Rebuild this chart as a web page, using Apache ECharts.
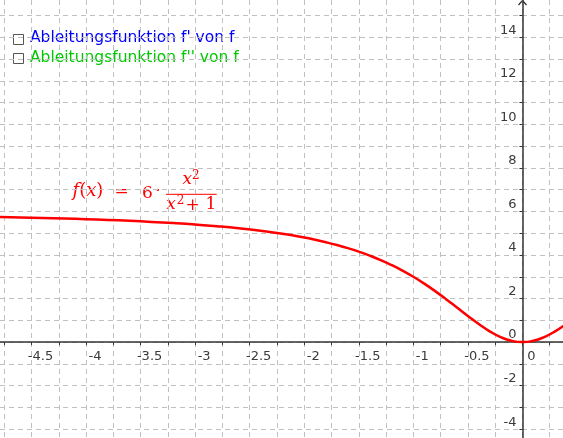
<!DOCTYPE html>
<html>
<head>
<meta charset="utf-8">
<script src="https://cdn.jsdelivr.net/npm/echarts@6/dist/echarts.min.js"></script>
<style>
html,body{margin:0;padding:0;background:#fff;}
#chart{width:563px;height:438px;}
</style>
</head>
<body>
<div id="chart"></div>
<script>
var xValues = [-4.8,-4.6,-4.4,-4.2,-4.0,-3.8,-3.6,-3.4,-3.2,-3.0,-2.8,-2.6,-2.4,-2.2,-2.0,-1.9,-1.8,-1.7,-1.6,-1.5,-1.4,-1.3,-1.2,-1.1,-1.0,-0.9,-0.8,-0.7,-0.6,-0.5,-0.4,-0.3,-0.2,-0.1,0,0.1,0.2,0.3,0.4];
var fValues = [5.750,5.729,5.705,5.678,5.647,5.611,5.570,5.522,5.466,5.400,5.321,5.227,5.112,4.973,4.800,4.699,4.585,4.458,4.315,4.154,3.973,3.770,3.541,3.285,3.000,2.685,2.341,1.973,1.588,1.200,0.828,0.495,0.231,0.059,0.000,0.059,0.231,0.495,0.828];
var xTickLabels = ['-4.5','-4','-3.5','-3','-2.5','-2','-1.5','-1','-0.5','0'];
var yTickLabels = ['-4','-2','0','2','4','6','8','10','12','14'];
var legendTexts = ["Ableitungsfunktion f' von f", "Ableitungsfunktion f'' von f"];

var W = 563, H = 438;
var xMin = -4.789, xMax = 0.372, yMin = -4.405, yMax = 15.714;

var chart = echarts.init(document.getElementById('chart'), null, {renderer:'canvas'});

var pts = xValues.map(function(x,i){ return [x, fValues[i]]; });

// grid/tick positions: every 0.25 on x, every 1 on y
var xTicks = []; for (var k = -19; k <= 1; k++) xTicks.push(k * 0.25);
var yTicks = []; for (var j = -4; j <= 15; j++) yTicks.push(j);

// axes drawn through the origin: shift them inward from the grid edge
var xAxisOffset = -((0 - yMin) / (yMax - yMin)) * H;
var yAxisOffset = -((0 - xMin) / (xMax - xMin)) * W;

var gridLine = {show:true, lineStyle:{color:'#c0c0c0', width:1, type:[5,4]}};
var serif = 'DejaVu Serif';

var option = {
  animation:false,
  backgroundColor:'#ffffff',
  grid:{left:0, right:0, top:0, bottom:0, containLabel:false, outerBoundsMode:'none'},
  xAxis:{
    type:'value', min:xMin, max:xMax, position:'bottom', offset:xAxisOffset,
    axisLine:{show:true, onZero:false, lineStyle:{color:'#333', width:1.5}},
    axisTick:{show:true, length:3, customValues:xTicks, lineStyle:{color:'#333', width:1}},
    splitLine:gridLine,
    axisLabel:{
      show:true, margin:8, color:'#3a3a3a', fontFamily:'DejaVu Sans', fontSize:13,
      lineHeight:14, align:'center', padding:[0,0,0,18], hideOverlap:false,
      customValues:xTickLabels.map(Number),
      formatter:function(v){ return String(v); }
    }
  },
  yAxis:{
    type:'value', min:yMin, max:yMax, position:'left', offset:yAxisOffset,
    axisLine:{show:true, onZero:false, lineStyle:{color:'#333', width:1.5}},
    axisTick:{show:true, length:3, customValues:yTicks, lineStyle:{color:'#333', width:1}},
    splitLine:gridLine,
    axisLabel:{
      show:true, margin:6, color:'#3a3a3a', fontFamily:'DejaVu Sans', fontSize:13,
      lineHeight:14, align:'right', verticalAlign:'bottom', hideOverlap:false,
      customValues:yTickLabels.map(Number),
      formatter:function(v){ return String(v); }
    }
  },
  series:[{
    type:'line', data:pts, smooth:true, showSymbol:false, symbol:'none',
    lineStyle:{color:'#ff0000', width:2.5}, z:5
  }],
  graphic:[{
    type:'group', x:0, y:0, z:10,
    children:[
      {type:'polyline', shape:{points:[[518.5,5],[522.5,0.5],[526.5,5]]}, style:{stroke:'#333', lineWidth:1.3, fill:null}},
      {type:'rect', shape:{x:13.5, y:34.5, width:10, height:10}, style:{fill:'#fff', stroke:'#555', lineWidth:1}},
      {type:'rect', shape:{x:13.5, y:53.5, width:10, height:10}, style:{fill:'#fff', stroke:'#555', lineWidth:1}},
      {type:'text', x:30, y:38, style:{text:legendTexts[0], fill:'#0000ff', font:'15.5px "DejaVu Sans"', align:'left', verticalAlign:'middle'}},
      {type:'text', x:30, y:58, style:{text:legendTexts[1], fill:'#00c800', font:'15.5px "DejaVu Sans"', align:'left', verticalAlign:'middle'}},
      {type:'text', x:72.5, y:191, style:{text:'{i|f}({i|x})', fill:'#ff0000', font:'18px "'+serif+'"', align:'left', verticalAlign:'middle',
        rich:{i:{fontStyle:'italic', fontFamily:serif, fontSize:18, fill:'#ff0000'}}}},
      {type:'text', x:121.5, y:192, style:{text:'=', fill:'#ff0000', font:'17px "'+serif+'"', align:'center', verticalAlign:'middle'}},
      {type:'text', x:147.5, y:194, style:{text:'6', fill:'#ff0000', font:'17px "'+serif+'"', align:'center', verticalAlign:'middle'}},
      {type:'text', x:158, y:192, style:{text:'·', fill:'#ff0000', font:'17px "'+serif+'"', align:'center', verticalAlign:'middle'}},
      {type:'line', shape:{x1:166, y1:194.3, x2:216.7, y2:194.3}, style:{stroke:'#ff0000', lineWidth:1}},
      {type:'text', x:187.2, y:180, style:{text:'x', fill:'#ff0000', font:'italic 17px "'+serif+'"', align:'center', verticalAlign:'middle'}},
      {type:'text', x:195.8, y:176, style:{text:'2', fill:'#ff0000', font:'12px "'+serif+'"', align:'center', verticalAlign:'middle'}},
      {type:'text', x:171, y:205, style:{text:'x', fill:'#ff0000', font:'italic 17px "'+serif+'"', align:'center', verticalAlign:'middle'}},
      {type:'text', x:180.5, y:201, style:{text:'2', fill:'#ff0000', font:'12px "'+serif+'"', align:'center', verticalAlign:'middle'}},
      {type:'text', x:192.5, y:205.5, style:{text:'+', fill:'#ff0000', font:'17px "'+serif+'"', align:'center', verticalAlign:'middle'}},
      {type:'text', x:210.8, y:205, style:{text:'1', fill:'#ff0000', font:'17px "'+serif+'"', align:'center', verticalAlign:'middle'}}
    ]
  }]
};
chart.setOption(option);
</script>
</body>
</html>
